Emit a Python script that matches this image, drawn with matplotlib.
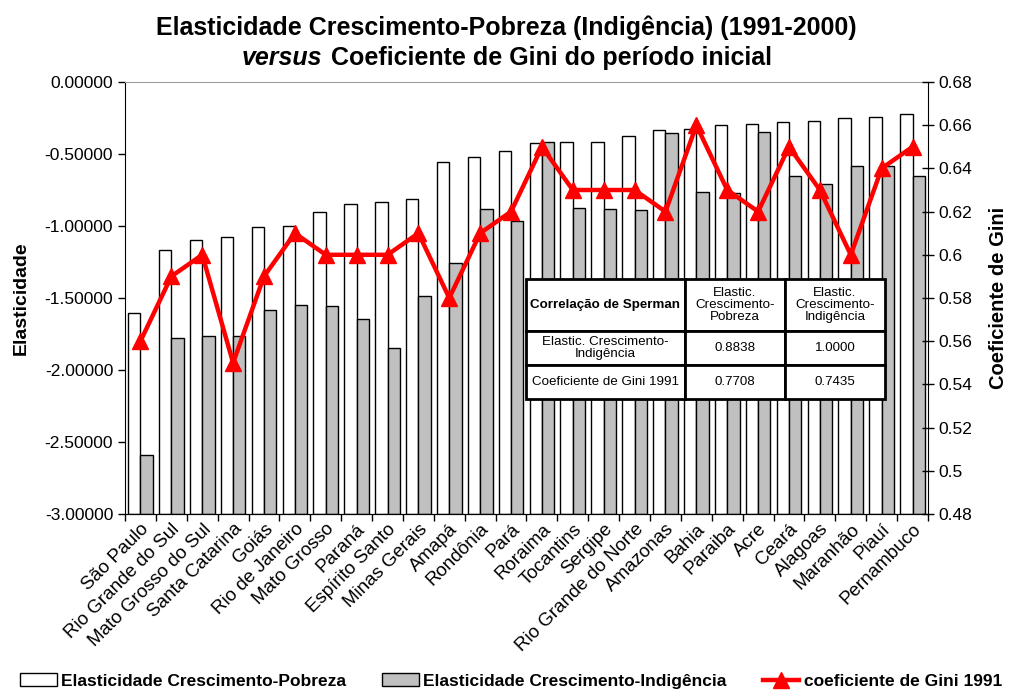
import numpy as np
import matplotlib
matplotlib.use("Agg")
import matplotlib.pyplot as plt
import matplotlib.transforms as mtransforms
from matplotlib.patches import Patch
from matplotlib.lines import Line2D

plt.rcParams["font.family"] = ["Liberation Sans", "DejaVu Sans"]

# -------------------------------------------------
# Data
# -------------------------------------------------

estados = [
    "São Paulo", "Rio Grande do Sul", "Mato Grosso do Sul", "Santa Catarina",
    "Goiás", "Rio de Janeiro", "Mato Grosso", "Paraná", "Espírito Santo",
    "Minas Gerais", "Amapá", "Rondônia", "Pará", "Roraima", "Tocantins",
    "Sergipe", "Rio Grande do Norte", "Amazonas", "Bahia", "Paraiba", "Acre",
    "Ceará", "Alagoas", "Maranhão", "Piauí", "Pernambuco"
]

elast_pobreza = [
    -1.602, -1.167, -1.097, -1.074, -1.009, -1.000, -0.905, -0.845, -0.836,
    -0.815, -0.553, -0.521, -0.481, -0.426, -0.414, -0.414, -0.373, -0.331,
    -0.329, -0.299, -0.289, -0.280, -0.271, -0.248, -0.245, -0.224
]

elast_indigencia = [
    -2.590, -1.775, -1.764, -1.762, -1.583, -1.546, -1.558, -1.648, -1.850,
    -1.488, -1.257, -0.880, -0.965, -0.419, -0.875, -0.884, -0.891, -0.352,
    -0.766, -0.771, -0.347, -0.655, -0.708, -0.583, -0.583, -0.653
]

gini_1991 = [
    0.56, 0.59, 0.60, 0.55, 0.59, 0.61, 0.60, 0.60, 0.60, 0.61, 0.58, 0.61,
    0.62, 0.65, 0.63, 0.63, 0.63, 0.62, 0.66, 0.63, 0.62, 0.65, 0.63, 0.60,
    0.64, 0.65
]

left_ticks = [0.0, -0.5, -1.0, -1.5, -2.0, -2.5, -3.0]
right_ticks = [0.48, 0.50, 0.52, 0.54, 0.56, 0.58, 0.60, 0.62, 0.64, 0.66, 0.68]

tabela_header = ["Correlação de Sperman", "Elastic.\nCrescimento-\nPobreza",
                 "Elastic.\nCrescimento-\nIndigência"]
tabela_linhas = [
    ["Elastic. Crescimento-\nIndigência", "0.8838", "1.0000"],
    ["Coeficiente de Gini 1991", "0.7708", "0.7435"],
]

# -------------------------------------------------
# Figure
# -------------------------------------------------

fig = plt.figure(figsize=(10.12, 6.91), dpi=100)
ax = fig.add_axes([125 / 1012, 1 - 514 / 691, 803 / 1012, 432 / 691])

x = np.arange(len(estados))
w = 0.4
base = -3.0

# bars rise from the bottom of the axis (axis crosses at -3)
ax.bar(x - w / 2, np.array(elast_pobreza) - base, bottom=base, width=w,
       color="white", edgecolor="black", linewidth=1, zorder=2)
ax.bar(x + w / 2, np.array(elast_indigencia) - base, bottom=base, width=w,
       color="#C0C0C0", edgecolor="black", linewidth=1, zorder=2)

ax.set_xlim(-0.5, len(estados) - 0.5)
ax.set_ylim(-3.0, 0.0)
ax.set_yticks(left_ticks)
ax.set_yticklabels([f"{v:.5f}" for v in left_ticks], fontsize=12.5)
ax.tick_params(axis="y", direction="out", length=5, width=1)

ax.set_xticks(x)
ax.set_xticklabels(estados, rotation=45, ha="right", va="center",
                   rotation_mode="anchor", fontsize=13.5)
ax.tick_params(axis="x", which="major", length=0, pad=9)
shift = mtransforms.ScaledTranslation(6 / 100, 0, fig.dpi_scale_trans)
for lab in ax.get_xticklabels():
    lab.set_transform(lab.get_transform() + shift)
ax.set_xticks(np.arange(len(estados) + 1) - 0.5, minor=True)
ax.tick_params(axis="x", which="minor", direction="out", length=5, width=1)

ax.spines["top"].set_color("#A0A0A0")
ax.spines["right"].set_visible(False)

ax.set_ylabel("Elasticidade", fontsize=14, fontweight="bold", labelpad=11)

# -------------------------------------------------
# Gini line
# -------------------------------------------------

ax2 = ax.twinx()
ax2.plot(x, gini_1991, color="#FF0000", linewidth=3.2, marker="^",
         markersize=12, zorder=3)
ax2.set_ylim(0.48, 0.68)
ax2.set_yticks(right_ticks)
ax2.set_yticklabels([f"{v:g}" for v in right_ticks], fontsize=12.5)
ax2.tick_params(axis="y", direction="inout", length=8, width=1)
ax2.spines["top"].set_visible(False)
ax2.spines["left"].set_visible(False)
ax2.set_ylabel("Coeficiente de Gini", fontsize=14.5, fontweight="bold",
               labelpad=12)

# -------------------------------------------------
# Table
# -------------------------------------------------

col_edges = [526, 685, 785, 885]
row_edges = [279, 331, 365, 399]


def to_ax(px, py):
    return ((px - 125) / 803, (514 - py) / 432)


for i, row in enumerate([tabela_header] + tabela_linhas):
    for j, txt in enumerate(row):
        x0, y0 = to_ax(col_edges[j], row_edges[i + 1])
        x1, y1 = to_ax(col_edges[j + 1], row_edges[i])
        ax2.add_patch(plt.Rectangle((x0, y0), x1 - x0, y1 - y0,
                                    transform=ax2.transAxes, facecolor="white",
                                    edgecolor="black", linewidth=2, zorder=5,
                                    clip_on=False))
        bold = (i == 0 and j == 0)
        ax2.text((x0 + x1) / 2, (y0 + y1) / 2, txt, transform=ax2.transAxes,
                 ha="center", va="center", fontsize=9.6, zorder=6,
                 linespacing=1.0,
                 fontweight="bold" if bold else "normal")

# -------------------------------------------------
# Title
# -------------------------------------------------

fig.text(0.5, 1 - 28 / 691, "Elasticidade Crescimento-Pobreza (Indigência) (1991-2000)",
         ha="center", va="center", fontsize=18, fontweight="bold")
fig.text(322 / 1012, 1 - 58 / 691, "versus", ha="right", va="center",
         fontsize=18, fontweight="bold", style="italic")
fig.text(331 / 1012, 1 - 58 / 691, "Coeficiente de Gini do período inicial",
         ha="left", va="center", fontsize=18, fontweight="bold")

# -------------------------------------------------
# Legend
# -------------------------------------------------

handles = [
    Patch(facecolor="white", edgecolor="black", linewidth=1),
    Patch(facecolor="#C0C0C0", edgecolor="black", linewidth=1),
    Line2D([0], [0], color="#FF0000", linewidth=3.2, marker="^", markersize=12),
]
labels = ["Elasticidade Crescimento-Pobreza",
          "Elasticidade Crescimento-Indigência",
          "coeficiente de Gini 1991"]
fig.legend(handles, labels, loc="center", bbox_to_anchor=(0.505, 1 - 681 / 691),
           ncol=3, frameon=False, prop={"weight": "bold", "size": 12.5},
           handlelength=2.1, handletextpad=0.25, columnspacing=2.1)

fig.savefig("out.png", dpi=100)
